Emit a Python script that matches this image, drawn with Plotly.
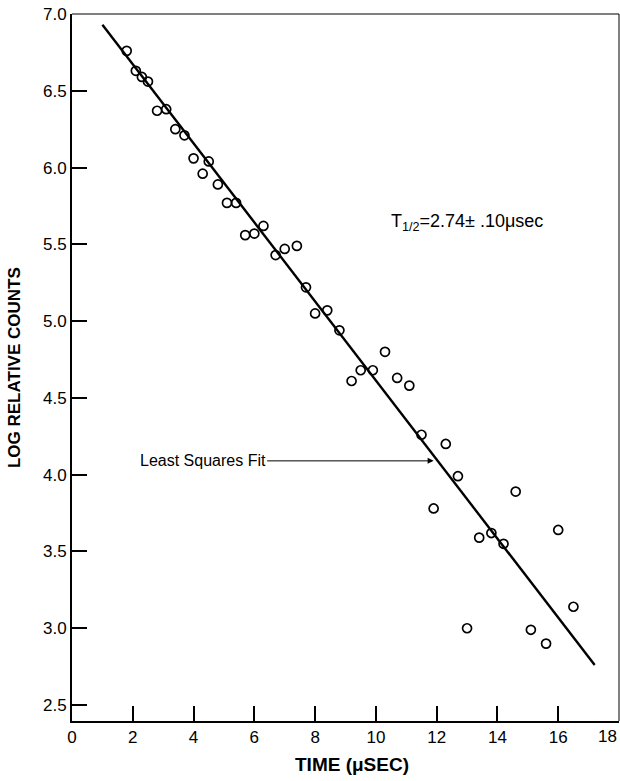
import plotly.graph_objects as go

# Data
time_us = [1.8, 2.1, 2.3, 2.5, 2.8, 3.1, 3.4, 3.7, 4.0, 4.3, 4.5, 4.8, 5.1, 5.4,
           5.7, 6.0, 6.3, 6.7, 7.0, 7.4, 7.7, 8.0, 8.4, 8.8, 9.2, 9.5, 9.9, 10.3,
           10.7, 11.1, 11.5, 11.9, 12.3, 12.7, 13.0, 13.4, 13.8, 14.2, 14.6, 15.1,
           15.6, 16.0, 16.5]
log_counts = [6.76, 6.63, 6.59, 6.56, 6.37, 6.38, 6.25, 6.21, 6.06, 5.96, 6.04, 5.89,
              5.77, 5.77, 5.56, 5.57, 5.62, 5.43, 5.47, 5.49, 5.22, 5.05, 5.07, 4.94,
              4.61, 4.68, 4.68, 4.80, 4.63, 4.58, 4.26, 3.78, 4.20, 3.99, 3.00, 3.59,
              3.62, 3.55, 3.89, 2.99, 2.90, 3.64, 3.14]
fit_x = [1.0, 17.2]
fit_y = [6.93, 2.76]

x_ticks = [0, 2, 4, 6, 8, 10, 12, 14, 16]
x_tick_labels = ["0", "2", "4", "6", "8", "10", "12", "14", "16"]
last_x_label = "18"
y_ticks = [2.5, 3.0, 3.5, 4.0, 4.5, 5.0, 5.5, 6.0, 6.5, 7.0]
y_tick_labels = ["2.5", "3.0", "3.5", "4.0", "4.5", "5.0", "5.5", "6.0", "6.5", "7.0"]

FONT = "Liberation Sans"

fig = go.Figure()
fig.add_trace(go.Scatter(x=fit_x, y=fit_y, mode="lines",
                         line=dict(color="black", width=2.4), showlegend=False,
                         hoverinfo="skip"))
fig.add_trace(go.Scatter(x=time_us, y=log_counts, mode="markers",
                         marker=dict(symbol="circle-open", size=9, color="black",
                                     line=dict(width=1.7, color="black")),
                         showlegend=False))

fig.update_layout(
    width=620, height=781,
    margin=dict(l=72, r=1, t=14, b=60),
    paper_bgcolor="white", plot_bgcolor="white",
    font=dict(family=FONT, color="black", size=15),
    xaxis=dict(range=[0, 18], tickvals=x_ticks, ticktext=x_tick_labels,
               ticks="inside", ticklen=15,
               tickwidth=1.5, tickcolor="black", showgrid=False, zeroline=False,
               showline=True, linecolor="black", linewidth=2,
               tickfont=dict(family=FONT, size=17, color="black")),
    yaxis=dict(range=[2.396, 7.0], tickvals=y_ticks, ticktext=y_tick_labels,
               ticks="inside", ticklen=15, tickwidth=1.5, tickcolor="black",
               showgrid=False, zeroline=False, showline=True, linecolor="black",
               linewidth=2, tickfont=dict(family=FONT, size=17, color="black")),
)

# thin top and right frame lines
fig.add_shape(type="line", xref="paper", yref="paper", x0=0, x1=1, y0=1, y1=1,
              line=dict(color="black", width=1.2))
fig.add_shape(type="line", xref="paper", yref="paper", x0=1, x1=1, y0=0, y1=1,
              line=dict(color="black", width=1))

# last x tick label kept inside the page
fig.add_annotation(text=last_x_label, xref="paper", yref="paper", x=1.0, y=0,
                   xanchor="right", yanchor="top", yshift=-4, showarrow=False,
                   font=dict(family=FONT, size=17, color="black"))

# axis titles
fig.add_annotation(text="<b>TIME (\u03bcSEC)</b>", xref="paper", yref="paper",
                   x=0.512, y=-0.062, yanchor="middle", showarrow=False,
                   font=dict(family=FONT, size=19, color="black"))
fig.add_annotation(text="<b>LOG RELATIVE COUNTS</b>", xref="paper", yref="paper",
                   x=-0.105, y=0.5, textangle=-90, showarrow=False,
                   xanchor="center", yanchor="middle",
                   font=dict(family=FONT, size=17, color="black"))

# half-life annotation
fig.add_annotation(text="T<sub>1/2</sub>=2.74\u00b1 .10\u03bcsec", x=13.0, y=5.64,
                   xref="x", yref="y", showarrow=False,
                   font=dict(family=FONT, size=18, color="black"))

# Least squares fit label with arrow
fig.add_annotation(text="Least Squares Fit", x=11.9, y=4.09, xref="x", yref="y",
                   ax=4.3, ay=4.09, axref="x", ayref="y", showarrow=True,
                   arrowhead=2, arrowsize=1.2, arrowwidth=1, arrowcolor="black",
                   font=dict(family=FONT, size=16, color="black"))

fig.write_html("out.html")
